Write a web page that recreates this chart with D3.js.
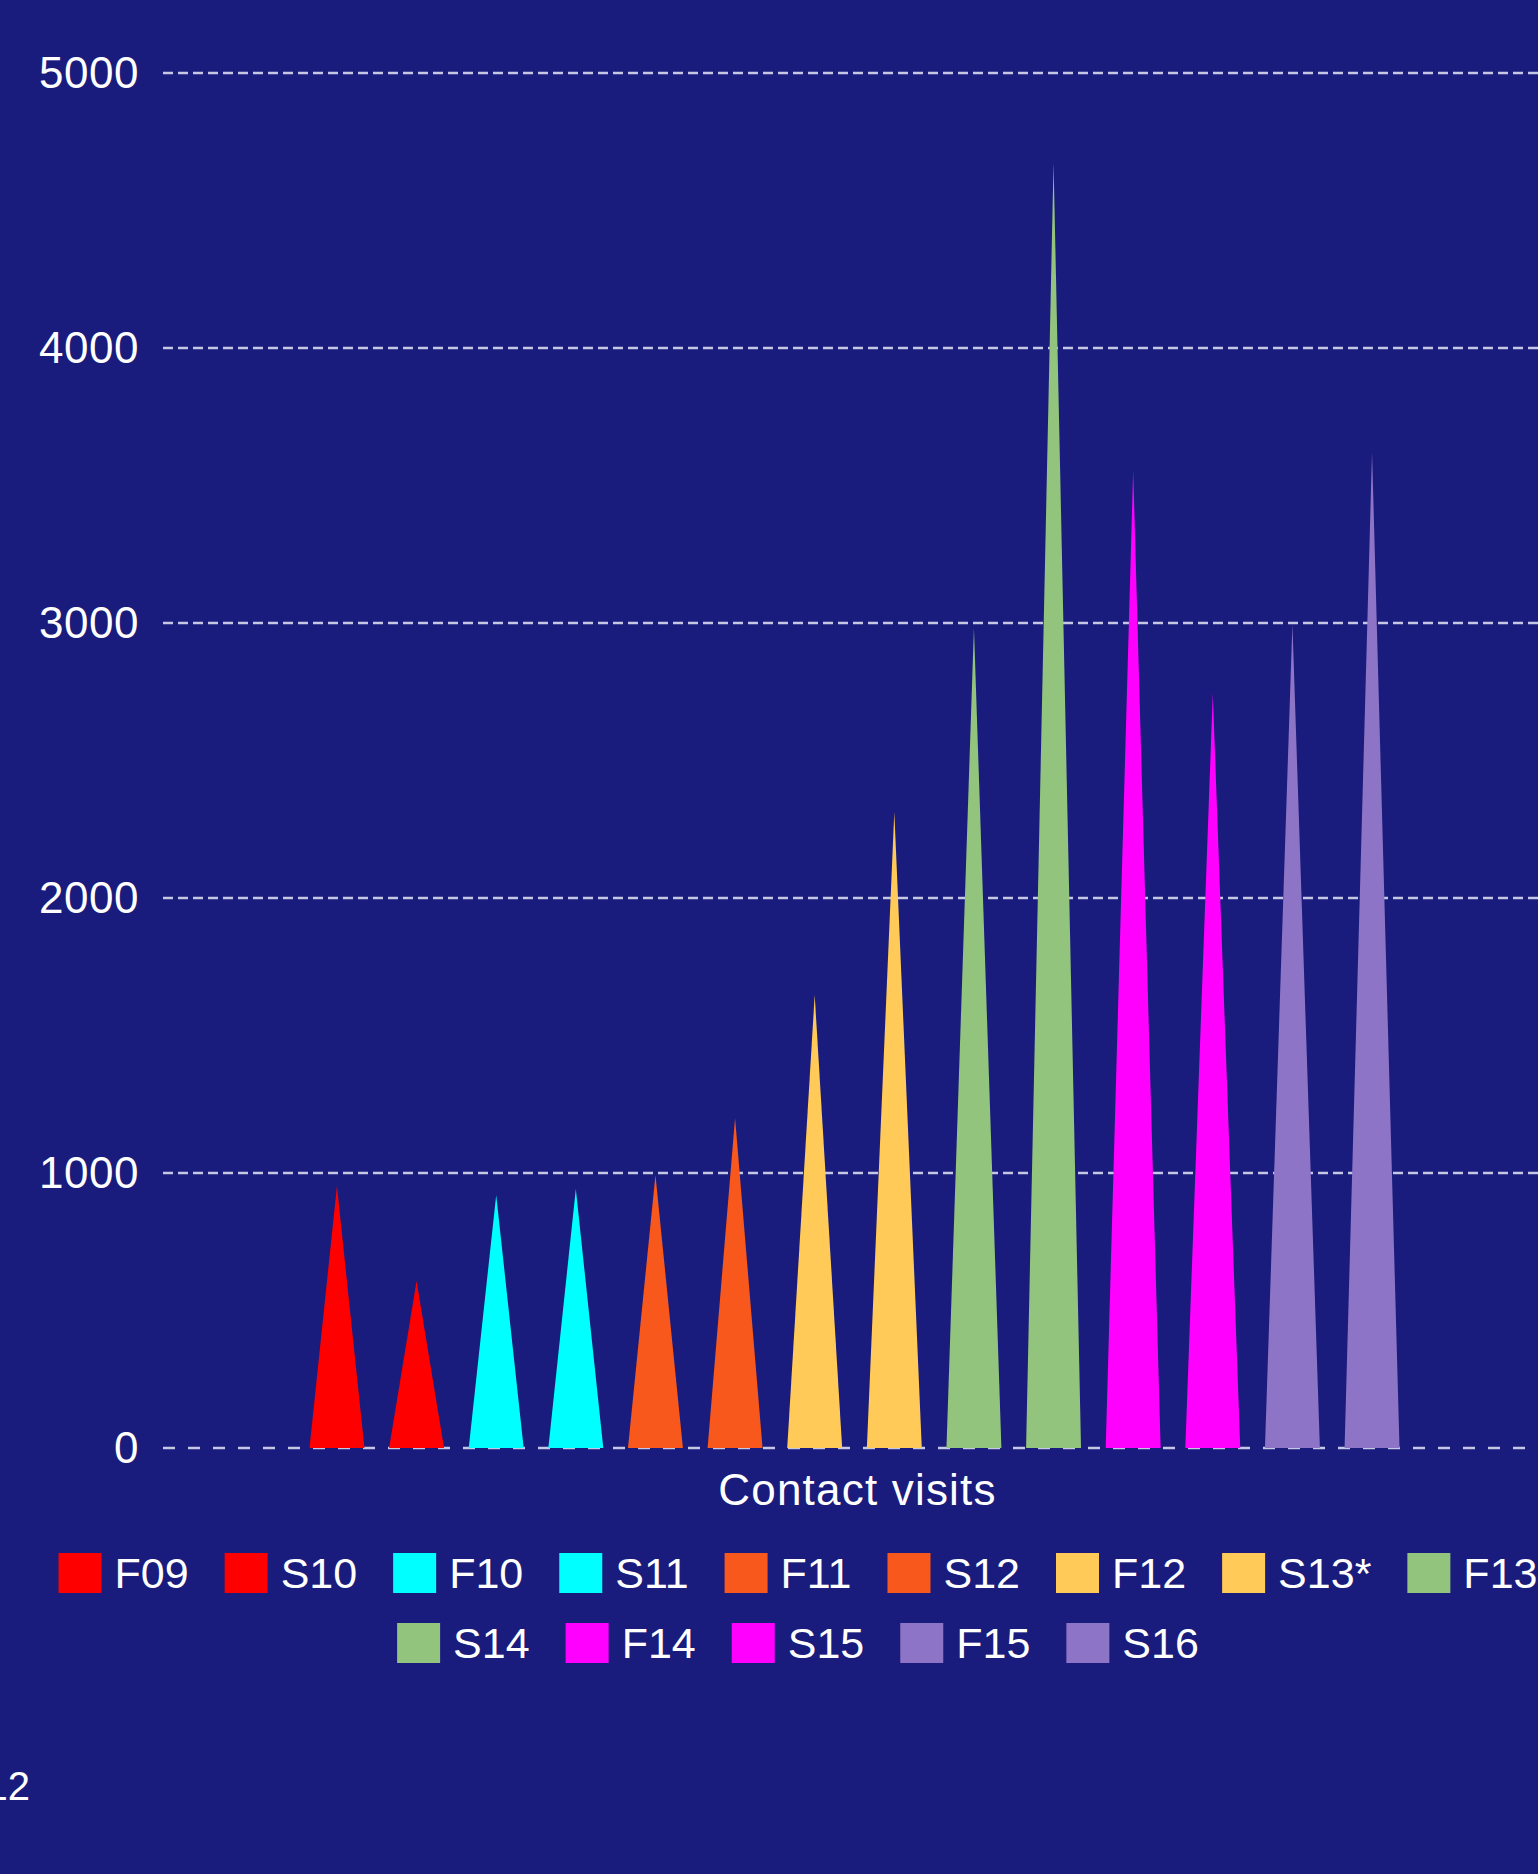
<!DOCTYPE html>
<html>
<head>
<meta charset="utf-8">
<script src="https://cdn.jsdelivr.net/npm/d3@7"></script>
<style>
  html, body { margin: 0; padding: 0; background: #191c7c; }
  svg { display: block; }
  text { font-family: "Liberation Sans", Arial, sans-serif; fill: #ffffff; }
</style>
</head>
<body>
<svg width="1538" height="1874"></svg>
<script>
// category and one value per term
var categories = ["Contact visits"];
var terms = ["F09", "S10", "F10", "S11", "F11", "S12", "F12", "S13*", "F13", "S14", "F14", "S15", "F15", "S16"];
var visits = [953, 607, 920, 942, 993, 1200, 1647, 2313, 2982, 4673, 3556, 2745, 2996, 3622];
var termColors = ["#ff0000", "#ff0000", "#00ffff", "#00ffff", "#f8581c", "#f8581c", "#ffca57", "#ffca57",
  "#93c47d", "#93c47d", "#ff00ff", "#ff00ff", "#8e74c6", "#8e74c6"];
var yTicks = [0, 1000, 2000, 3000, 4000, 5000];

var svg = d3.select("svg"),
  width = +svg.attr("width"),
  plotLeft = 163,
  plotRight = 1546,
  plotTop = 73,
  plotBottom = 1448;

svg.append("rect").attr("width", width).attr("height", 1874).attr("fill", "#191c7c");

var y = d3.scaleLinear().domain([0, 5000]).range([plotBottom, plotTop]);

var x0 = d3
  .scaleBand()
  .domain(categories)
  .range([plotLeft, plotRight])
  .paddingInner(0.194)
  .paddingOuter(0.097);

var x1 = d3.scaleBand().domain(terms).range([0, x0.bandwidth()]);

var z = d3.scaleOrdinal().domain(terms).range(termColors);

// grid lines + tick labels
var grid = svg.append("g");
grid
  .selectAll("line")
  .data(yTicks)
  .enter()
  .append("line")
  .attr("x1", plotLeft)
  .attr("x2", width + 20)
  .attr("y1", function (d) { return y(d); })
  .attr("y2", function (d) { return y(d); })
  .attr("stroke", "#c6c7e4")
  .attr("stroke-width", 2.6)
  .attr("stroke-dasharray", function (d) { return d === 0 ? "12,13" : "10,5"; });

grid
  .selectAll("text")
  .data(yTicks)
  .enter()
  .append("text")
  .attr("x", 139)
  .attr("y", function (d) { return y(d) + 15; })
  .attr("text-anchor", "end")
  .attr("font-size", "44px")
  .attr("letter-spacing", "0.5px")
  .text(function (d) { return d; });

// pointy bars
var half = x1.bandwidth() * 0.345;
svg
  .append("g")
  .selectAll("path")
  .data(terms.map(function (t, i) { return { term: t, value: visits[i] }; }))
  .enter()
  .append("path")
  .attr("fill", function (d) { return z(d.term); })
  .attr("d", function (d) {
    var cx = x0(categories[0]) + x1(d.term) + x1.bandwidth() / 2;
    return "M" + (cx - half) + "," + y(0) + "L" + cx + "," + y(d.value) + "L" + (cx + half) + "," + y(0) + "Z";
  });

// axis title
svg
  .append("text")
  .attr("x", x0(categories[0]) + x0.bandwidth() / 2 + 3)
  .attr("y", 1505)
  .attr("text-anchor", "middle")
  .attr("font-size", "44px")
  .attr("letter-spacing", "1.2px")
  .text(categories[0]);

// legend, wrapped into centred rows
var legend = svg.append("g");
var items = legend
  .selectAll("g")
  .data(terms)
  .enter()
  .append("g");

items
  .append("rect")
  .attr("width", 43)
  .attr("height", 40)
  .attr("y", -20)
  .attr("fill", z);

items
  .append("text")
  .attr("x", 56)
  .attr("y", 15)
  .attr("font-size", "43px")
  .text(function (d) { return d; });

var gap = 36;
var rows = [[]], rowW = [0], maxW = 1580;
items.each(function (d) {
  var w = 56 + this.querySelector("text").getComputedTextLength();
  var r = rows.length - 1;
  var add = rows[r].length ? gap + w : w;
  if (rowW[r] + add > maxW) {
    rows.push([]);
    rowW.push(0);
    r++;
    add = w;
  }
  rows[r].push({ node: this, w: w });
  rowW[r] += add;
});

rows.forEach(function (row, r) {
  var xx = 798 - rowW[r] / 2;
  row.forEach(function (it) {
    d3.select(it.node).attr("transform", "translate(" + xx + "," + (1573 + r * 70) + ")");
    xx += it.w + gap;
  });
});

// page number, partly off the page
svg
  .append("text")
  .attr("x", 30)
  .attr("y", 1800)
  .attr("text-anchor", "end")
  .attr("font-size", "40px")
  .text("12");
</script>
</body>
</html>
